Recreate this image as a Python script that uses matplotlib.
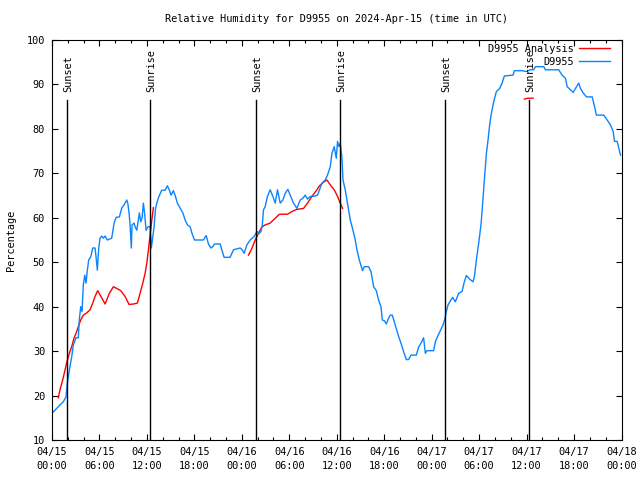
import numpy as np
import matplotlib
matplotlib.use("Agg")
import matplotlib.pyplot as plt

# D9955 observations (hours since 04/15 00:00 UTC, relative humidity %)
obs_hours = [0.00, 1.01, 1.43, 1.77, 1.94, 2.19, 2.49, 2.70, 3.04, 3.33, 3.45, 3.63, 3.80, 3.96,
             4.14, 4.30, 4.47, 4.64, 4.90, 5.15, 5.44, 5.57, 5.73, 5.91, 6.07, 6.29, 6.49, 6.71,
             7.00, 7.55, 7.85, 8.10, 8.52, 8.82, 9.11, 9.45, 9.58, 9.74, 9.87, 10.03, 10.12,
             10.38, 10.50, 10.72, 10.92, 11.05, 11.22, 11.39, 11.55, 11.73, 11.89, 12.15, 12.40,
             12.56, 12.74, 12.91, 13.07, 13.25, 13.50, 13.67, 13.87, 14.30, 14.59, 14.84, 15.06,
             15.35, 15.56, 15.85, 16.20, 16.54, 16.83, 17.12, 17.46, 17.68, 18.01, 19.14, 19.49,
             19.78, 20.08, 20.33, 20.54, 21.26, 21.47, 21.76, 22.52, 22.94, 23.79, 24.04, 24.29,
             24.64, 25.05, 25.56, 25.90, 26.23, 26.41, 26.57, 26.74, 26.95, 27.24, 27.58, 27.93,
             28.22, 28.51, 28.85, 29.19, 29.48, 29.82, 30.12, 30.53, 30.96, 31.38, 31.72, 32.01,
             32.30, 32.65, 33.06, 33.57, 34.13, 34.54, 34.83, 35.18, 35.39, 35.68, 35.94, 36.10,
             36.28, 36.44, 36.66, 36.79, 37.07, 37.29, 37.49, 37.71, 38.05, 38.34, 38.55, 38.85,
             39.26, 39.48, 40.02, 40.33, 40.66, 41.00, 41.29, 41.59, 41.76, 42.05, 42.26, 42.55,
             42.77, 43.02, 43.27, 43.53, 43.82, 44.12, 44.45, 44.79, 45.08, 45.39, 46.06, 46.35,
             46.65, 46.98, 47.20, 47.41, 48.25, 48.46, 48.75, 49.10, 49.44, 49.69, 49.85, 50.07,
             50.36, 50.65, 50.99, 51.41, 51.84, 52.13, 52.39, 52.80, 53.23, 53.40, 53.65, 53.94,
             54.25, 54.45, 54.66, 54.92, 55.13, 55.33, 55.51, 55.84, 56.18, 56.60, 56.90, 57.19,
             58.29, 58.46, 59.43, 59.98, 60.48, 60.90, 61.12, 62.17, 62.38, 64.06, 64.49, 64.91,
             65.13, 65.55, 65.89, 66.18, 66.60, 66.81, 67.15, 67.57, 68.29, 68.49, 68.83, 69.76,
             70.19, 70.60, 70.95, 71.11, 71.45, 71.66, 71.87]
obs_rh = [16.0, 17.9, 18.6, 19.7, 22.8, 25.7, 28.7, 31.4, 33.0, 33.0, 37.0, 40.0, 38.9, 44.9,
          47.1, 45.3, 48.2, 50.5, 51.2, 53.2, 53.2, 51.2, 48.2, 53.2, 55.4, 55.9, 55.4, 55.9,
          55.0, 55.4, 58.8, 60.1, 60.2, 62.2, 62.9, 64.0, 63.3, 61.1, 58.4, 53.2, 58.4,
          58.8, 58.0, 57.2, 59.5, 61.1, 59.1, 60.0, 63.3, 60.6, 57.2, 58.0, 58.0,
          53.2, 55.7, 58.0, 61.8, 63.3, 64.7, 65.4, 66.2, 66.2, 67.2, 66.2, 65.1,
          66.1, 65.1, 63.3, 62.2, 61.1, 59.5, 58.4, 58.0, 56.6, 55.0, 55.0, 56.0,
          54.1, 53.2, 53.5, 54.1, 54.1, 52.8, 51.1, 51.1, 52.8, 53.2, 52.8, 52.0,
          53.9, 55.0, 55.8, 56.9, 56.5, 56.9, 58.0, 61.8, 62.5, 64.8, 66.3, 64.8,
          63.3, 66.3, 63.3, 64.0, 65.5, 66.4, 65.1, 63.3, 62.1, 64.0, 64.4, 65.1,
          64.2, 64.8, 64.8, 65.1, 67.8, 68.5, 69.6, 71.5, 74.5, 76.0, 73.4, 77.2,
          76.0, 76.8, 73.5, 68.5, 66.3, 64.0, 61.8, 59.5, 57.2, 55.0, 52.8, 50.5,
          48.1, 49.0, 49.0, 47.9, 44.5, 43.6, 41.5, 40.0, 37.0, 36.8, 36.1, 37.4,
          38.1, 38.1, 36.6, 35.1, 33.3, 31.8, 29.9, 28.1, 28.1, 29.1, 29.1, 30.9,
          31.8, 33.0, 29.5, 30.1, 30.1, 32.1, 33.3, 34.6, 35.9, 37.4, 38.9, 40.4,
          41.3, 42.1, 41.1, 43.0, 43.4, 45.6, 47.0, 46.2, 45.6, 46.7, 50.5, 54.2,
          58.7, 63.3, 68.5, 74.5, 77.5, 80.9, 83.1, 86.1, 88.4, 89.1, 90.3, 91.9,
          92.1, 93.1, 93.1, 92.9, 93.3, 93.3, 94.0, 94.0, 93.3, 93.3, 92.1, 91.4,
          89.5, 88.8, 88.2, 89.1, 90.3, 89.1, 88.1, 87.2, 87.2, 85.8, 83.1, 83.1,
          82.0, 80.9, 79.4, 77.2, 77.2, 75.6, 74.1]

# D9955 analysis (gaps as NaN)
ana_hours = [0.80, 1.01, 1.35, 1.64, 1.86, 2.19, 2.49, 2.78, 3.04, 3.33, 3.63, 3.96, 4.39, 4.81,
             5.15, 5.44, 5.78, 6.16, 6.71, 7.25, 7.76, 8.19, 8.69, 9.24, 9.74, 10.29, 10.79,
             11.13, 11.48, 11.77, 11.98, 12.19, 12.40, 12.62, 12.82, 18.0,
             24.84, 25.27, 25.69, 26.10, 26.53, 26.95, 27.58, 28.22, 28.76, 29.77, 30.33, 30.96,
             31.80, 32.30, 32.86, 33.41, 33.82, 34.25, 34.76, 35.18, 35.68, 36.10, 36.44, 36.73,
             48.0, 59.72, 60.14, 60.82]
ana_rh = [19.5, 21.3, 23.5, 25.7, 27.4, 29.5, 31.0, 32.9, 34.0, 35.5, 37.0, 38.1, 38.6, 39.3,
          40.8, 42.3, 43.6, 42.4, 40.6, 43.0, 44.5, 44.1, 43.6, 42.3, 40.5, 40.6, 40.8,
          43.0, 45.3, 47.5, 49.7, 52.8, 56.1, 59.5, 62.3, np.nan,
          51.6, 53.1, 55.0, 56.5, 57.9, 58.4, 58.8, 59.9, 60.8, 60.8, 61.4, 61.9,
          62.1, 63.3, 64.8, 66.1, 67.2, 67.9, 68.5, 67.4, 66.3, 64.8, 63.3, 62.1,
          np.nan, 86.7, 86.9, 86.9]

sun_hours = [1.90, 12.40, 25.81, 36.44, 49.73, 60.36]
sun_labels = ["Sunset", "Sunrise", "Sunset", "Sunrise", "Sunset", "Sunrise"]

tick_hours = list(range(0, 73, 6))
tick_labels = ["04/15\n00:00", "04/15\n06:00", "04/15\n12:00", "04/15\n18:00",
               "04/16\n00:00", "04/16\n06:00", "04/16\n12:00", "04/16\n18:00",
               "04/17\n00:00", "04/17\n06:00", "04/17\n12:00", "04/17\n18:00",
               "04/18\n00:00"]

plt.rcParams["font.family"] = ["DejaVu Sans Mono"]
fs = 7.4

fig = plt.figure(figsize=(6.4, 4.8), dpi=100)
ax = fig.add_axes([52 / 640, 40 / 480, 569.5 / 640, 400 / 480])

ax.plot(ana_hours, ana_rh, color="#ff0000", lw=1.0, label="D9955 Analysis")
ax.plot(obs_hours, obs_rh, color="#0a84ff", lw=1.0, label="D9955")

for h, lab in zip(sun_hours, sun_labels):
    ax.plot([h, h], [10, 86.5], color="black", lw=1.0)
    ax.text(h + 0.1, 88.3, lab, rotation=90, ha="center", va="bottom", fontsize=fs)

ax.set_xlim(0, 72)
ax.set_ylim(10, 100)
ax.set_xticks(tick_hours)
ax.set_xticklabels(tick_labels, fontsize=fs, linespacing=1.5)
ax.set_xticks(np.arange(0, 73, 2), minor=True)
ax.set_yticks(range(10, 101, 10))
ax.tick_params(axis="y", labelsize=fs)
ax.tick_params(which="major", direction="in", length=4, width=0.8, top=True, right=True, pad=5)
ax.tick_params(which="minor", direction="in", length=2.2, width=0.8, top=True)
for s in ax.spines.values():
    s.set_linewidth(0.8)

ax.set_ylabel("Percentage", fontsize=fs, labelpad=8)
ax.set_title("Relative Humidity for D9955 on 2024-Apr-15 (time in UTC)", fontsize=fs, pad=13)

ax.legend(loc="upper right", bbox_to_anchor=(0.98, 0.99), frameon=False, markerfirst=False,
          fontsize=fs, handlelength=3.0, handletextpad=0.5, borderpad=0, borderaxespad=0,
          labelspacing=0.25)

fig.savefig("out.png", dpi=100)
